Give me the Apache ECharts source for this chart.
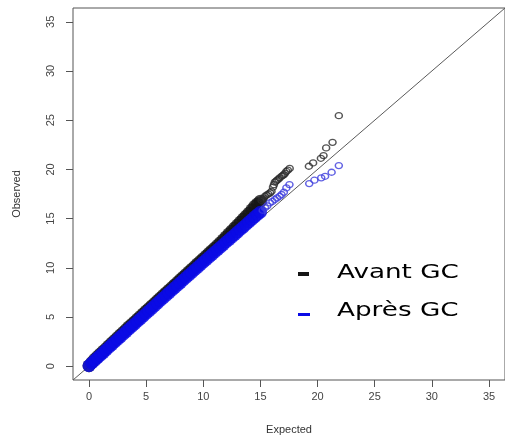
<!DOCTYPE html>
<html>
<head>
<meta charset="utf-8">
<script src="https://cdn.jsdelivr.net/npm/echarts@6/dist/echarts.min.js"></script>
<style>
  html, body { margin: 0; padding: 0; background: #fff; }
  #chart { width: 505px; height: 446px; }
</style>
</head>
<body>
<div id="chart"></div>
<script>
// Tick positions shared by both axes
const tickValues = [0, 5, 10, 15, 20, 25, 30, 35];

// Dense part of the QQ curve (expected on a 0.25 grid)
const bandExpected = [0, 0.25, 0.5, 0.75, 1, 1.25, 1.5, 1.75, 2, 2.25, 2.5, 2.75, 3, 3.25,
  3.5, 3.75, 4, 4.25, 4.5, 4.75, 5, 5.25, 5.5, 5.75, 6, 6.25, 6.5, 6.75, 7, 7.25, 7.5, 7.75,
  8, 8.25, 8.5, 8.75, 9, 9.25, 9.5, 9.75, 10, 10.25, 10.5, 10.75, 11, 11.25, 11.5, 11.75,
  12, 12.25, 12.5, 12.75, 13, 13.25, 13.5, 13.75, 14, 14.25, 14.5, 14.75, 15];
const avantBandObserved = [0.05, 0.38, 0.7, 0.98, 1.25, 1.53, 1.8, 2.08, 2.35, 2.62, 2.9,
  3.18, 3.45, 3.72, 4.0, 4.26, 4.52, 4.79, 5.06, 5.33, 5.6, 5.86, 6.13, 6.4, 6.67, 6.93, 7.2,
  7.46, 7.73, 8.0, 8.26, 8.53, 8.8, 9.06, 9.33, 9.6, 9.86, 10.13, 10.4, 10.66, 10.93, 11.2,
  11.47, 11.73, 12.0, 12.27, 12.55, 12.85, 13.15, 13.45, 13.75, 14.05, 14.35, 14.65, 14.95,
  15.25, 15.55, 15.9, 16.25, 16.5, 16.77];
const apresBandObserved = [0.05, 0.33, 0.6, 0.86, 1.12, 1.39, 1.66, 1.93, 2.2, 2.46, 2.72,
  2.99, 3.25, 3.52, 3.78, 4.04, 4.3, 4.57, 4.83, 5.1, 5.36, 5.62, 5.88, 6.15, 6.42, 6.68,
  6.94, 7.2, 7.46, 7.72, 7.98, 8.24, 8.5, 8.76, 9.02, 9.28, 9.54, 9.8, 10.05, 10.31, 10.57,
  10.83, 11.08, 11.34, 11.6, 11.85, 12.1, 12.36, 12.62, 12.87, 13.12, 13.38, 13.63, 13.89,
  14.14, 14.4, 14.66, 14.92, 15.18, 15.42, 15.65];

// Upper tail, individual points: before genomic control
const avantTailExpected = [15.1, 15.2, 15.3, 15.4, 15.55, 15.7, 15.85, 15.97, 16.1, 16.18,
  16.26, 16.36, 16.45, 16.57, 16.68, 16.85, 16.95, 17.05, 17.15, 17.27, 17.4, 17.56,
  19.24, 19.61, 20.29, 20.52, 20.75, 21.31, 21.86];
const avantTailObserved = [16.85, 17.0, 17.1, 17.27, 17.4, 17.5, 17.62, 17.78, 18.2, 18.45,
  18.7, 18.8, 18.9, 19.0, 19.14, 19.3, 19.38, 19.47, 19.6, 19.8, 19.92, 20.1,
  20.32, 20.66, 21.13, 21.4, 22.18, 22.75, 25.46];

// Upper tail, individual points: after genomic control
const apresTailExpected = [15.2, 15.4, 15.6, 15.83, 16.05, 16.26, 16.45, 16.68, 16.85,
  17.05, 17.27, 17.54, 19.27, 19.72, 20.32, 20.66, 21.23, 21.86];
const apresTailObserved = [15.85, 16.1, 16.3, 16.6, 16.75, 16.94, 17.1, 17.27, 17.45,
  17.68, 18.12, 18.46, 18.56, 18.9, 19.14, 19.3, 19.71, 20.39];

// y = x reference line across the plotting region
const refLine = [[-1.4, -1.4], [36.4, 36.4]];

const legendItems = ['Avant GC', 'Après GC'];
const colorAvant = '#151515';
const colorApres = '#0a0ae6';

const zip = (xs, ys) => xs.map((x, i) => [x, ys[i]]);

const axisCommon = {
  type: 'value',
  min: -1.4,
  max: 36.4,
  splitLine: { show: false },
  axisLine: { show: false, onZero: false },
  axisTick: { show: true, length: 7, customValues: tickValues,
    lineStyle: { color: '#555', width: 1 } },
  axisLabel: { customValues: tickValues, color: '#444', fontSize: 11,
    fontFamily: 'Liberation Sans, Arial, sans-serif' },
  nameLocation: 'middle',
  nameTextStyle: { color: '#333', fontSize: 11, fontFamily: 'Liberation Sans, Arial, sans-serif' }
};

const chart = echarts.init(document.getElementById('chart'), null, { renderer: 'canvas' });

chart.setOption({
  animation: false,
  backgroundColor: '#fff',
  grid: {
    left: 73, top: 8, width: 443, height: 372,
    show: true, borderColor: '#555', borderWidth: 1, backgroundColor: 'transparent'
  },
  xAxis: Object.assign({}, axisCommon, {
    name: 'Expected', nameGap: 44,
    axisLabel: Object.assign({}, axisCommon.axisLabel, { margin: 11 })
  }),
  yAxis: Object.assign({}, axisCommon, {
    name: 'Observed', nameGap: 51,
    axisLabel: Object.assign({}, axisCommon.axisLabel, { rotate: 90, margin: 17 })
  }),
  series: [
    {
      type: 'line', data: refLine, symbol: 'none', silent: true,
      lineStyle: { color: '#5a5a5a', width: 1 }, z: 1
    },
    {
      name: legendItems[0], type: 'scatter', data: zip(bandExpected, avantBandObserved),
      symbol: 'circle', symbolSize: 13,
      itemStyle: { color: colorAvant }, z: 2
    },
    {
      name: legendItems[0], type: 'scatter', data: zip(avantTailExpected, avantTailObserved),
      symbol: 'circle', symbolSize: [7, 6],
      itemStyle: { color: 'rgba(0,0,0,0)', borderColor: '#2a2a2a', borderWidth: 1.4 }, z: 2
    },
    {
      name: legendItems[1], type: 'scatter', data: zip(bandExpected, apresBandObserved),
      symbol: 'circle', symbolSize: 13,
      itemStyle: { color: colorApres }, z: 3
    },
    {
      name: legendItems[1], type: 'scatter', data: zip(apresTailExpected, apresTailObserved),
      symbol: 'circle', symbolSize: [7, 6],
      itemStyle: { color: 'rgba(0,0,0,0)', borderColor: '#3b3bdc', borderWidth: 1.4 }, z: 3
    }
  ],
  graphic: [
    { type: 'rect', shape: { x: 298, y: 272, width: 11, height: 4 }, style: { fill: colorAvant } },
    { type: 'text', x: 337, y: 273, scaleX: 1.38,
      style: { text: legendItems[0], fill: '#000', font: '19px "DejaVu Sans"', verticalAlign: 'middle' } },
    { type: 'rect', shape: { x: 298, y: 313, width: 12, height: 3 }, style: { fill: colorApres } },
    { type: 'text', x: 337, y: 311, scaleX: 1.38,
      style: { text: legendItems[1], fill: '#000', font: '19px "DejaVu Sans"', verticalAlign: 'middle' } }
  ]
});
</script>
</body>
</html>
